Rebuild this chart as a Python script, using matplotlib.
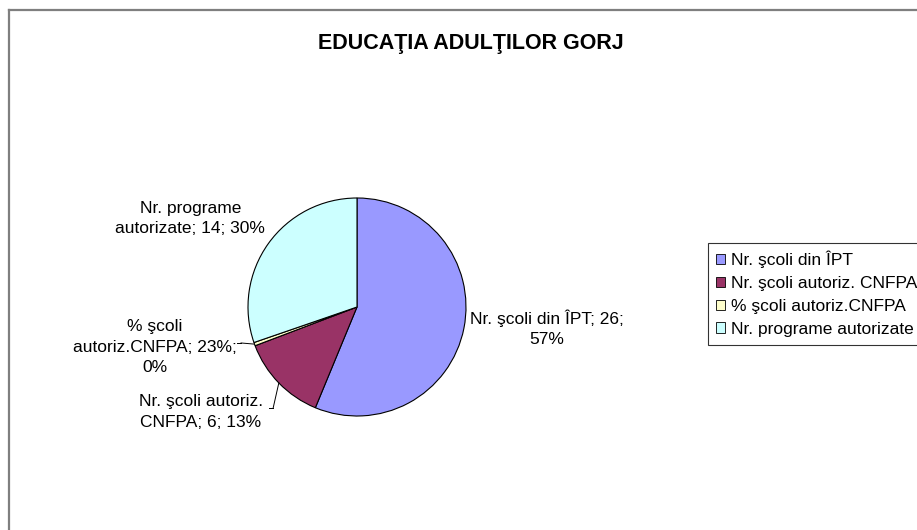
import matplotlib
matplotlib.use("Agg")
import matplotlib.pyplot as plt
from matplotlib.lines import Line2D
import numpy as np

plt.rcParams['font.family'] = ['Liberation Sans', 'DejaVu Sans']

# ---- data ----
categories = ["Nr. şcoli din ÎPT", "Nr. şcoli autoriz. CNFPA",
              "% şcoli autoriz.CNFPA", "Nr. programe autorizate"]
values = [26, 6, 0.23, 14]
value_labels = ["26", "6", "23%", "14"]
pct_labels = ["57%", "13%", "0%", "30%"]
label_texts = ["Nr. şcoli din ÎPT; 26;\n57%",
               "Nr. şcoli autoriz.\nCNFPA; 6; 13%",
               "% şcoli\nautoriz.CNFPA; 23%;\n0%",
               "Nr. programe\nautorizate; 14; 30%"]
colors = ["#9999FF", "#993366", "#FFFFCC", "#CCFFFF"]
title = "EDUCAŢIA ADULŢILOR GORJ"

W, H = 917, 530
fig = plt.figure(figsize=(W / 100, H / 100), dpi=100)
fig.patch.set_facecolor("white")

# border (top and left visible)
fig.add_artist(Line2D([9 / W, 1.0], [1 - 10 / H, 1 - 10 / H], transform=fig.transFigure,
                      color="#7f7f7f", lw=1.6))
fig.add_artist(Line2D([9 / W, 9 / W], [0, 1 - 10 / H], transform=fig.transFigure,
                      color="#7f7f7f", lw=1.6))

fig.text(471 / W, 1 - 44 / H, title, ha="center", va="center",
         fontsize=15.5, fontweight="bold")

cx, cy, r = 357, 307, 109
ax = fig.add_axes([(cx - r) / W, (H - cy - r) / H, 2 * r / W, 2 * r / H])
wedges, _ = ax.pie(values, colors=colors, startangle=90, counterclock=False,
                   radius=1, wedgeprops=dict(edgecolor="black", linewidth=0.8))
ax.set_xlim(-1, 1)
ax.set_ylim(-1, 1)
ax.axis("off")

# label positions (data coords of the pie axes)
label_pos = [(1.743, -0.197), (-1.431, -0.963), (-1.853, -0.367), (-1.53, 0.81)]
leader_end = [None, (-0.77, -0.93), (-1.064, -0.33), None]

total = sum(values)
cum = np.cumsum([0] + values)
for i, txt in enumerate(label_texts):
    x, y = label_pos[i]
    ax.text(x, y, txt, ha="center", va="center", fontsize=12.5,
            linespacing=1.45, clip_on=False)
    if leader_end[i] is not None:
        mid = 90 - 360 * (cum[i] + values[i] / 2) / total
        px, py = np.cos(np.radians(mid)), np.sin(np.radians(mid))
        ex, ey = leader_end[i]
        ax.plot([px, ex], [py, ey], color="black", lw=0.7, clip_on=False)
        ax.plot([ex, ex - 0.04], [ey, ey], color="black", lw=0.7, clip_on=False)

leg = fig.legend(wedges, categories, loc="upper left",
                 bbox_to_anchor=(708 / W, 1 - 243 / H), fontsize=12.5,
                 frameon=True, fancybox=False, edgecolor="black",
                 handlelength=0.55, handleheight=0.55, handletextpad=0.3,
                 labelspacing=0.45, borderpad=0.45, borderaxespad=0)
leg.get_frame().set_linewidth(0.8)
for h in leg.legend_handles:
    h.set_edgecolor("black")
    h.set_linewidth(0.6)

fig.savefig("out.png", dpi=100, facecolor="white")
